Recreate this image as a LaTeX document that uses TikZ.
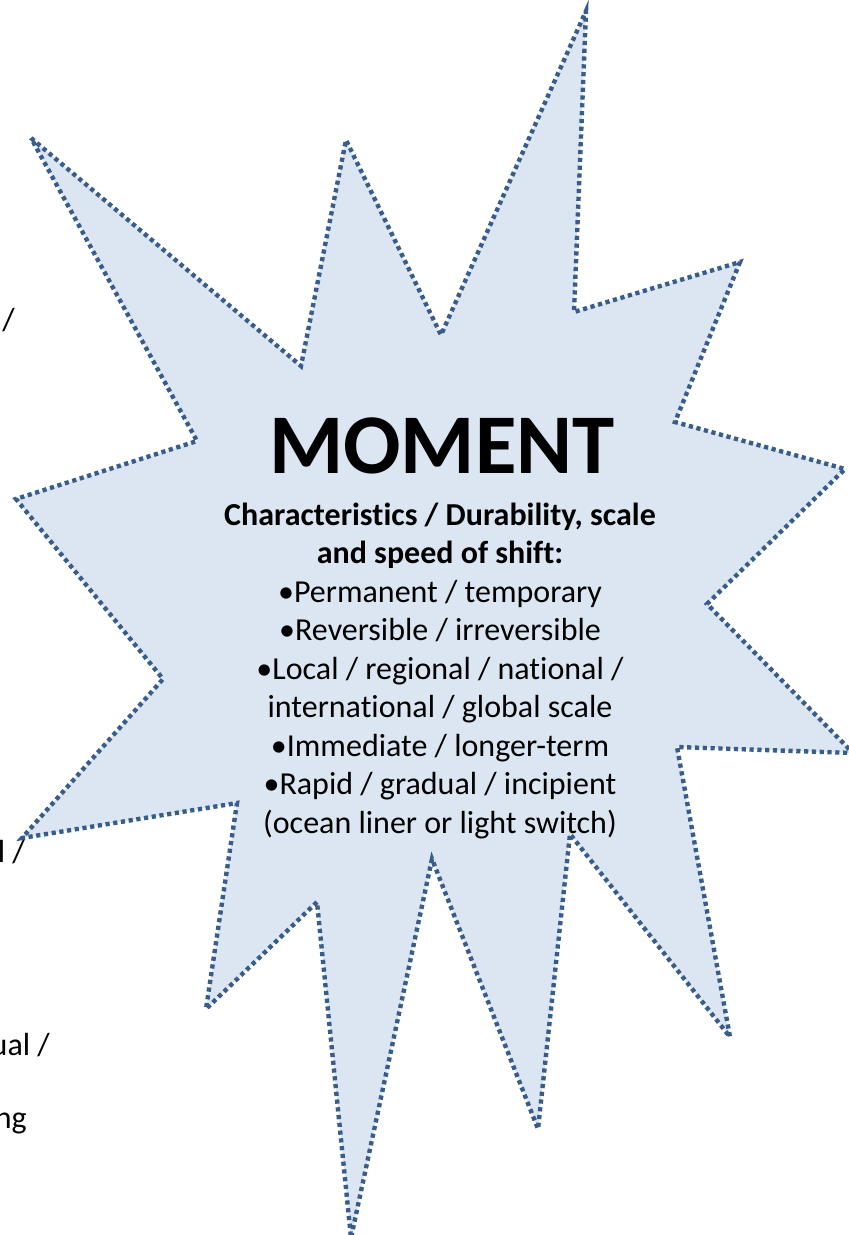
\documentclass[tikz,border=0pt]{standalone}
\usepackage{fontspec}
\setmainfont[Ligatures=NoCommon]{Carlito}
\definecolor{burstline}{RGB}{56,93,138}
\definecolor{burstfill}{RGB}{220,230,242}

\begin{document}
\begin{tikzpicture}
    [x=1pt,y=-1pt,
     burst/.style={fill=burstfill,draw=burstline,line width=4.4pt,dash pattern=on 4.2pt off 3.6pt},
     bodytext/.style={font=\fontsize{32}{38.5}\selectfont,inner sep=0pt},
     fragment/.style={bodytext,anchor=base east}]
    \useasboundingbox (0,0) rectangle (849,1235);
    \clip (0,0) rectangle (849,1235);
    % the star
    \draw[burst] (31,138) -- (301,366) -- (346,140) -- (441,335)
      -- (586,11) -- (574,312) -- (740,262) -- (675,422)
      -- (845,469) -- (707,604) -- (853,753) -- (677,747)
      -- (730,1037) -- (570,834) -- (538,1129) -- (432,859)
      -- (351,1238) -- (317,902) -- (206,1009) -- (237,803)
      -- (22,838) -- (163,679) -- (16,499) -- (197,441) -- cycle;
    % text inside
    \node[anchor=base,inner sep=0pt,font=\fontsize{85}{85}\selectfont\bfseries] (title) at (442,473) {MOMENT};
    \node[bodytext,anchor=base,align=center] (traits) at (440,833)
      {\textbf{Characteristics / Durability, scale}\\
       \textbf{and speed of shift:}\\
       •Permanent / temporary\\
       •Reversible / irreversible\\
       •Local / regional / national /\\
       international / global scale\\
       •Immediate / longer-term\\
       •Rapid / gradual / incipient\\
       (ocean liner or light switch)};
    % cut off text at the left edge
    \node[fragment] (frag1) at (15,330) {/};
    \node[fragment] (frag2) at (25,862) {l /};
    \node[fragment] (frag3) at (50,1055) {ual /};
    \node[fragment] (frag4) at (27,1128) {ng};
\end{tikzpicture}
\end{document}
